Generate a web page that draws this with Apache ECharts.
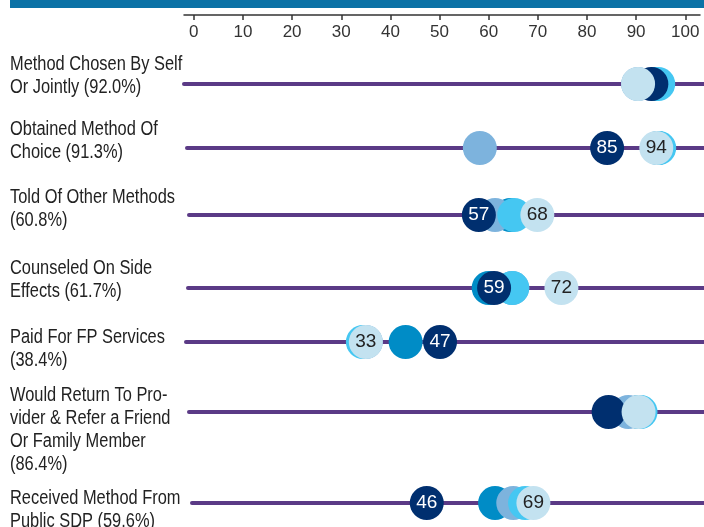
<!DOCTYPE html>
<html>
<head>
<meta charset="utf-8">
<title>Client experience with FP services</title>
<script src="https://cdn.jsdelivr.net/npm/echarts@6/dist/echarts.min.js"></script>
<style>
  html, body { margin: 0; padding: 0; background: #fff; }
  #chart { width: 704px; height: 527px; }
</style>
</head>
<body>
<div id="chart"></div>
<script>
// row labels, top to bottom
const categories = [
  'Method Chosen By Self\nOr Jointly (92.0%)',
  'Obtained Method Of\nChoice (91.3%)',
  'Told Of Other Methods\n(60.8%)',
  'Counseled On Side\nEffects (61.7%)',
  'Paid For FP Services\n(38.4%)',
  'Would Return To Pro-\nvider & Refer a Friend\nOr Family Member\n(86.4%)',
  'Received Method From\nPublic SDP (59.6%)'
]
const ticks = [0, 10, 20, 30, 40, 50, 60, 70, 80, 90, 100]

// one array per dot colour, one value per row
const mediumValues = [93.8, 94.4, 64.4, 60.0, 43.1, 90.5, 61.3]
const lightValues = [90.4, 58.2, 61.3, 64.8, 35.0, 88.4, 65.0]
const skyValues = [94.5, 94.7, 65.2, 64.8, 34.4, 90.9, 67.4]
const navyValues = [93.1, 84.1, 58.0, 61.1, 50.1, 84.4, 47.4]
const paleValues = [90.4, 94.1, 69.9, 74.8, 35.0, 90.5, 69.1]
// numbers printed inside some of the dots
const navyLabels = ['', '85', '57', '59', '47', '', '46']
const paleLabels = ['', '94', '68', '72', '33', '', '69']

// layout
const FONT = "'Liberation Sans', Arial, sans-serif"
const rowY = [84, 148, 215, 288, 342, 412, 503]
const lineLeft = [184, 187, 189, 188, 186, 189, 192]
const labelTop = [53, 118, 186, 257, 326, 384, 487]
const axisLeft = 184
const axisRight = 700
const axisMin = -2
const axisMax = 103
const unit = (axisRight - axisLeft) / (axisMax - axisMin)

const chart = echarts.init(document.getElementById('chart'))

const layers = [
  { values: mediumValues, color: '#008cc6' },
  { values: lightValues, color: '#7db3dd' },
  { values: skyValues, color: '#45c7f2' },
  { values: navyValues, color: '#002f6f', labels: navyLabels, text: '#ffffff' },
  { values: paleValues, color: '#c3e2f0', labels: paleLabels, text: '#222222' }
]

let grids = [{ left: axisLeft, right: 704 - axisRight, top: 0, height: 15 }]
let xAxes = [{
  gridIndex: 0,
  type: 'value',
  position: 'bottom',
  min: axisMin,
  max: axisMax,
  axisLine: { show: true, lineStyle: { color: '#333', width: 1.5 } },
  axisTick: { show: true, length: 5, customValues: ticks, lineStyle: { color: '#333', width: 1.5 } },
  axisLabel: { customValues: ticks, margin: 9, color: '#333', fontSize: 17, fontFamily: FONT },
  splitLine: { show: false }
}]
let yAxes = [{ gridIndex: 0, type: 'value', min: 0, max: 1, show: false }]
let series = []
let graphics = [
  { type: 'rect', left: 10, top: 0, shape: { width: 694, height: 8 }, style: { fill: '#0b72a6' } }
]

for (let i = 0; i < categories.length; i++) {
  let left = lineLeft[i]
  // keep every row on the same scale as the top axis
  let min = axisMin + (left - axisLeft) / unit
  grids.push({ left: left, right: 0, top: rowY[i] - 20, height: 40 })
  xAxes.push({
    gridIndex: i + 1,
    type: 'value',
    min: min,
    max: min + (704 - left) / unit,
    axisLine: { show: true, onZero: true, lineStyle: { color: '#5b3a86', width: 4 } },
    axisTick: { show: false },
    axisLabel: { show: false },
    splitLine: { show: false }
  })
  yAxes.push({ gridIndex: i + 1, type: 'value', min: -1, max: 1, show: false })
  for (let l of layers) {
    let txt = l.labels ? l.labels[i] : ''
    series.push({
      type: 'scatter',
      xAxisIndex: i + 1,
      yAxisIndex: i + 1,
      symbolSize: 34,
      silent: true,
      itemStyle: { color: l.color, opacity: 1 },
      label: {
        show: txt !== '',
        position: 'inside',
        formatter: () => txt,
        color: l.text,
        fontSize: 19,
        fontFamily: FONT
      },
      data: [[l.values[i], 0]]
    })
  }
  graphics.push({
    type: 'text',
    x: 10,
    y: labelTop[i],
    scaleX: 0.82,
    style: { text: categories[i], fill: '#222', font: '20px ' + FONT, lineHeight: 23 }
  })
}

chart.setOption({
  animation: false,
  grid: grids,
  xAxis: xAxes,
  yAxis: yAxes,
  series: series,
  graphic: graphics
})
</script>
</body>
</html>
